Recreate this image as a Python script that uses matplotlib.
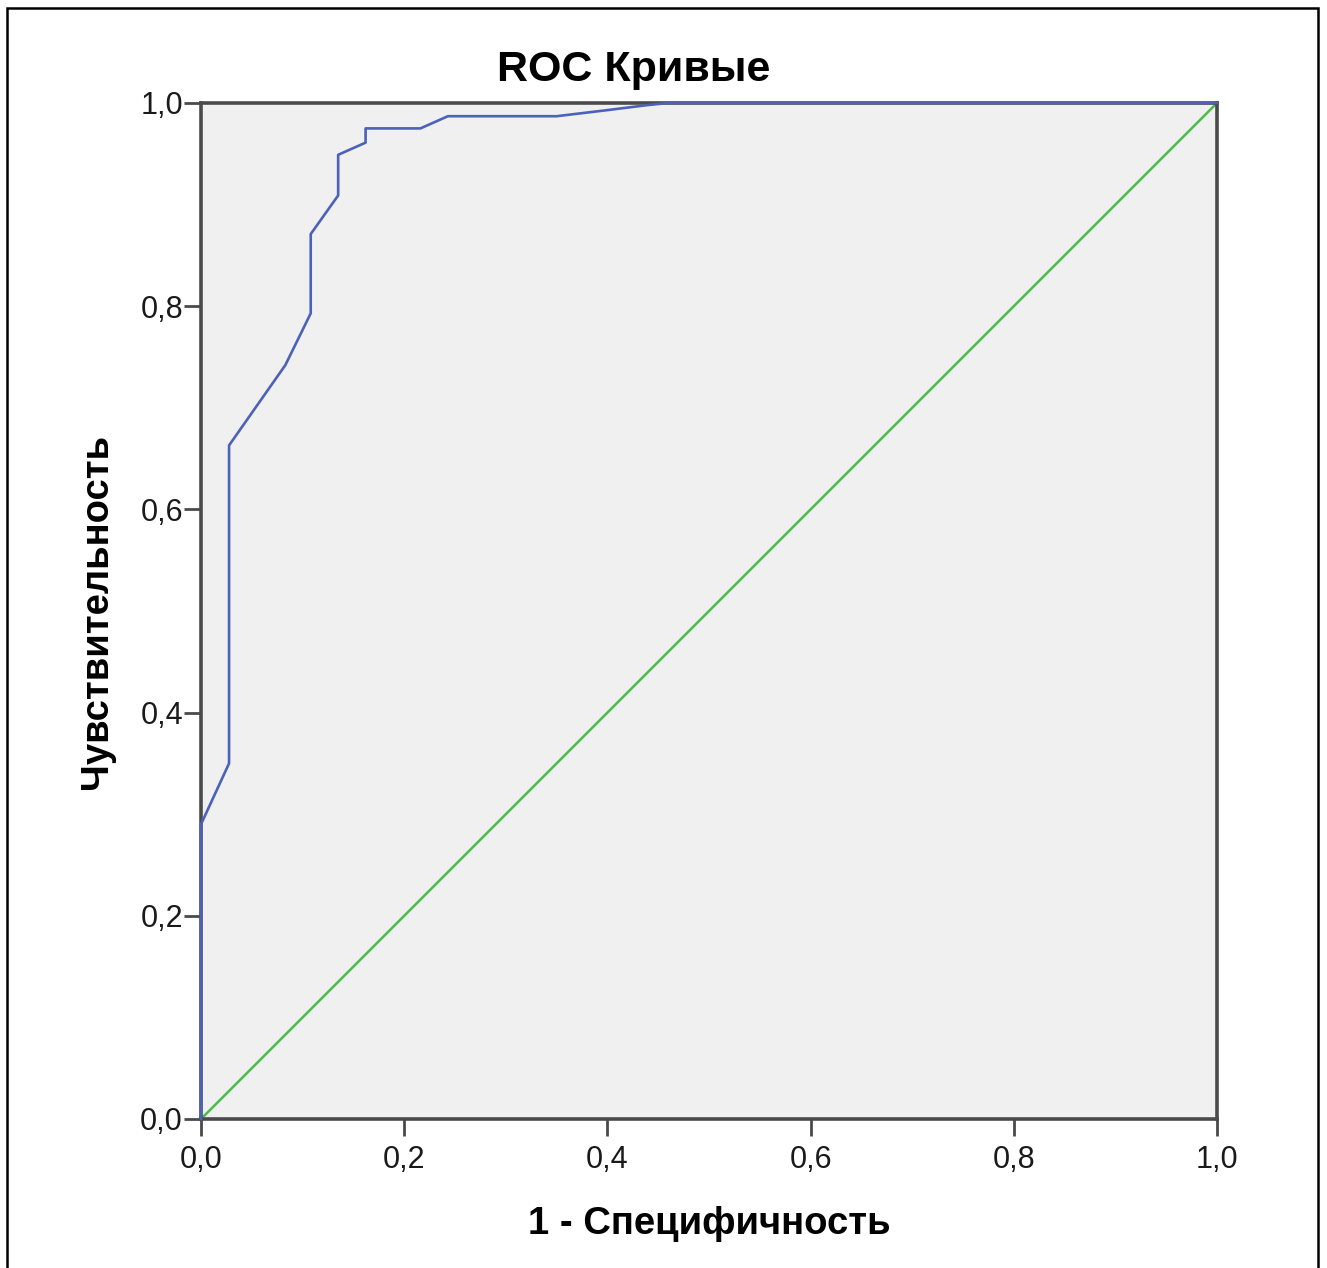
import matplotlib
matplotlib.use("Agg")
import matplotlib.pyplot as plt
from matplotlib.patches import Rectangle

# ROC curve points
fpr = [0.0, 0.0, 0.0276, 0.0276, 0.083, 0.108, 0.108, 0.135, 0.135, 0.162, 0.162,
       0.216, 0.243, 0.35, 0.40, 0.44, 0.46, 1.0]
tpr = [0.0, 0.290, 0.350, 0.663, 0.742, 0.793, 0.871, 0.909, 0.949, 0.961, 0.975,
       0.975, 0.987, 0.987, 0.993, 0.998, 1.0, 1.0]
ref_x = [0.0, 1.0]
ref_y = [0.0, 1.0]
ticks = [0.0, 0.2, 0.4, 0.6, 0.8, 1.0]
tick_labels = ["0,0", "0,2", "0,4", "0,6", "0,8", "1,0"]

plt.rcParams['font.family'] = ['Liberation Sans', 'DejaVu Sans']

fig = plt.figure(figsize=(13.27, 12.68), dpi=100)
ax = fig.add_axes([201 / 1327, 1 - 1119 / 1268, 1016 / 1327, 1016 / 1268])
ax.set_facecolor('#f0f0f0')

ax.plot(ref_x, ref_y, color='#4cbb4c', linewidth=1.8, zorder=2)
ax.plot(fpr, tpr, color='#4b62b8', linewidth=1.9, zorder=3, clip_on=False)

ax.set_xlim(0, 1)
ax.set_ylim(0, 1)
ax.set_xticks(ticks)
ax.set_xticklabels(tick_labels)
ax.set_yticks(ticks)
ax.set_yticklabels(tick_labels)

for s in ax.spines.values():
    s.set_color('#4a4a4a')
    s.set_linewidth(2.6)
ax.tick_params(direction='out', length=12, width=2.0, color='#4a4a4a',
               labelsize=22, labelcolor='#1a1a1a')
ax.tick_params(axis='y', pad=1)
ax.tick_params(axis='x', pad=7)

fig.text(634 / 1327, 1 - 70 / 1268, 'ROC Кривые', fontsize=31, fontweight='bold',
         ha='center', va='center')
ax.set_xlabel('1 - Специфичность', fontsize=27.5, fontweight='bold', labelpad=22)
ax.set_ylabel('Чувствительность', fontsize=27.5, fontweight='bold', labelpad=18)

# outer frame around the figure
fig.patches.append(Rectangle((7 / 1327, -0.05), 1311 / 1327, 1.05 - 8 / 1268,
                             transform=fig.transFigure, fill=False,
                             edgecolor='black', linewidth=1.8))

fig.savefig('out.png', dpi=100)
